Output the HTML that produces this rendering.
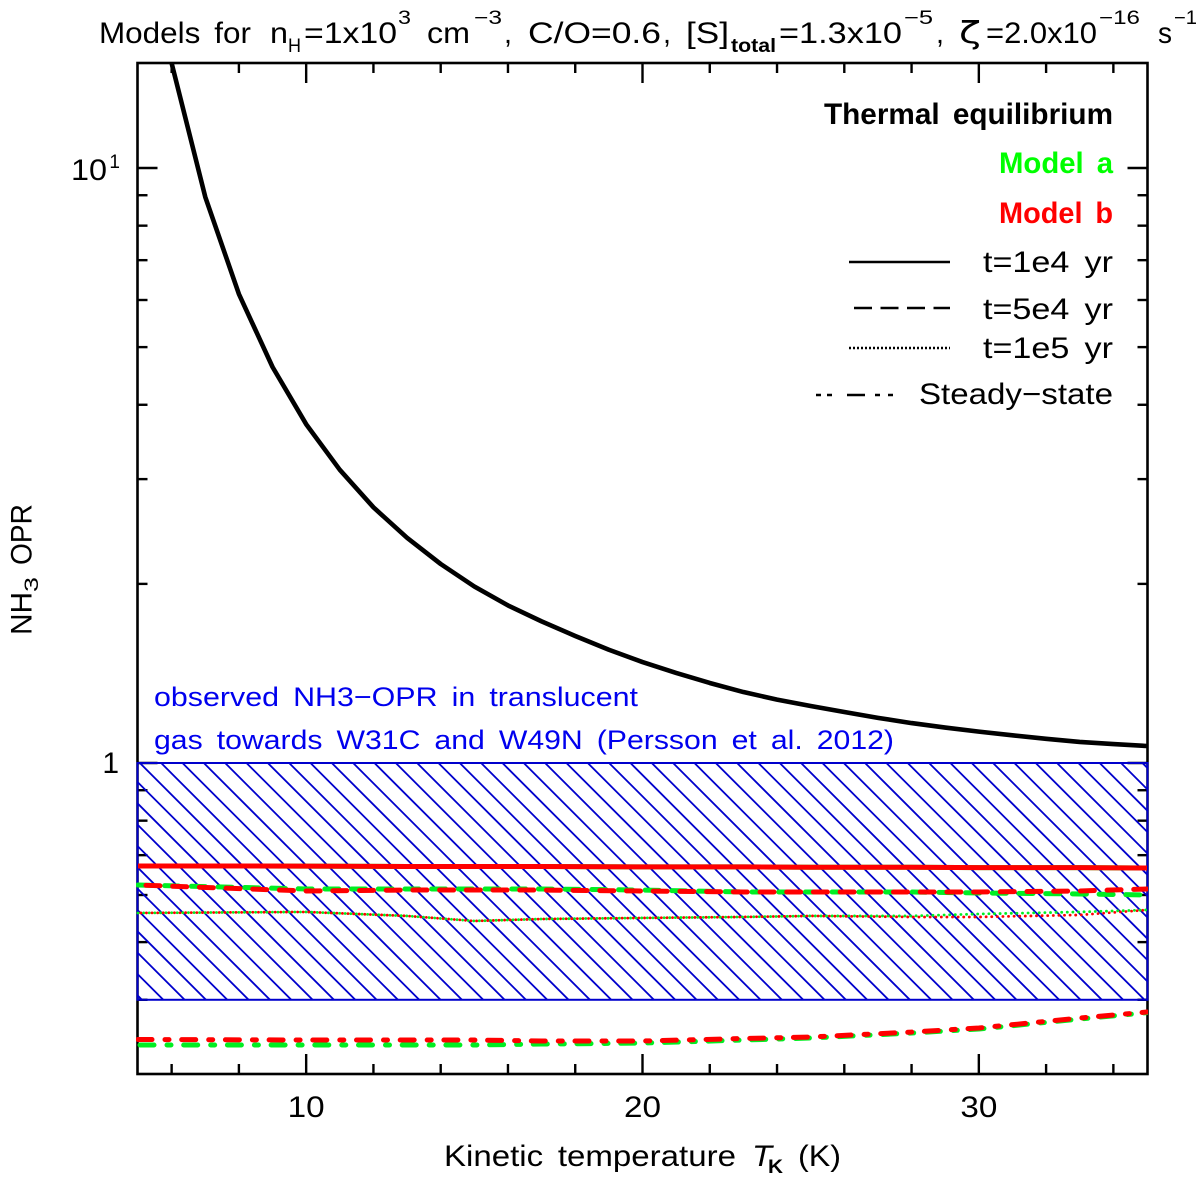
<!DOCTYPE html>
<html lang="en">
<head>
<meta charset="utf-8">
<title>NH3 OPR versus kinetic temperature</title>
<style>
html,body{margin:0;padding:0;background:#fff;width:1200px;height:1181px;overflow:hidden}
svg{display:block}
text{font-family:"Liberation Sans",sans-serif;font-size:30px;fill:#000;word-spacing:5px}
.sub{font-size:19px}
.blue{fill:#0000ee;font-size:27px}
.leg{font-size:30px}
.bold{font-weight:bold}
</style>
</head>
<body>
<svg id="chart" xmlns="http://www.w3.org/2000/svg" width="1200" height="1181" viewBox="0 0 1200 1181">
  <defs>
    <clipPath id="plot-clip"><rect x="136" y="63" width="1012" height="1011"></rect></clipPath>
    <clipPath id="hatch-clip"><rect x="137.5" y="763" width="1010" height="237"></rect></clipPath>
  </defs>

  <g>
    <text lengthAdjust="spacingAndGlyphs" x="99" y="43" textLength="152">Models for</text>
    <text lengthAdjust="spacingAndGlyphs" x="270" y="43" textLength="18">n</text>
    <text lengthAdjust="spacingAndGlyphs" class="sub" x="288" y="52" textLength="13">H</text>
    <text lengthAdjust="spacingAndGlyphs" x="304" y="43" textLength="93">=1x10</text>
    <text lengthAdjust="spacingAndGlyphs" class="sub" x="398" y="24" textLength="13">3</text>
    <text lengthAdjust="spacingAndGlyphs" x="427" y="43" textLength="43">cm</text>
    <text lengthAdjust="spacingAndGlyphs" class="sub" x="474" y="24" textLength="28">−3</text>
    <text lengthAdjust="spacingAndGlyphs" x="504" y="43" textLength="8">,</text>
    <text lengthAdjust="spacingAndGlyphs" x="528" y="43" textLength="133">C/O=0.6</text>
    <text lengthAdjust="spacingAndGlyphs" x="663" y="43" textLength="8">,</text>
    <text lengthAdjust="spacingAndGlyphs" x="686" y="43" textLength="43">[S]</text>
    <text lengthAdjust="spacingAndGlyphs" class="sub bold" x="731" y="52" textLength="45">total</text>
    <text lengthAdjust="spacingAndGlyphs" x="779" y="43" textLength="123">=1.3x10</text>
    <text lengthAdjust="spacingAndGlyphs" class="sub" x="904" y="24" textLength="29">−5</text>
    <text lengthAdjust="spacingAndGlyphs" x="936" y="43" textLength="8">,</text>
    <text lengthAdjust="spacingAndGlyphs" x="959" y="43" textLength="22" style="font-family:'DejaVu Sans',sans-serif">ζ</text>
    <text lengthAdjust="spacingAndGlyphs" x="986" y="43" textLength="111">=2.0x10</text>
    <text lengthAdjust="spacingAndGlyphs" class="sub" x="1099" y="24" textLength="41">−16</text>
    <text lengthAdjust="spacingAndGlyphs" x="1158" y="43" textLength="14">s</text>
    <text lengthAdjust="spacingAndGlyphs" class="sub" x="1174" y="24" textLength="23">−1</text>
  </g>

  <g id="ticks"></g>
  <rect x="137.5" y="63" width="1010" height="1011" fill="none" stroke="#000" stroke-width="2.6"></rect>
  <g id="band"></g>
  <g id="series" clip-path="url(#plot-clip)"></g>
  <g id="labels"></g>

  <g>
    <text lengthAdjust="spacingAndGlyphs" transform="translate(31.5,635) rotate(-90)" textLength="43">NH</text>
    <text lengthAdjust="spacingAndGlyphs" class="sub" transform="translate(38,592) rotate(-90)" textLength="15">3</text>
    <text lengthAdjust="spacingAndGlyphs" transform="translate(31.5,565) rotate(-90)" textLength="61">OPR</text>
  </g>

  <g>
    <text lengthAdjust="spacingAndGlyphs" x="444" y="1166" textLength="292">Kinetic temperature</text>
    <text lengthAdjust="spacingAndGlyphs" x="752" y="1166" font-style="italic" textLength="20">T</text>
    <text lengthAdjust="spacingAndGlyphs" class="sub bold" x="768" y="1173" textLength="15">K</text>
    <text lengthAdjust="spacingAndGlyphs" x="798" y="1166" textLength="43">(K)</text>
  </g>

  <g>
    <text lengthAdjust="spacingAndGlyphs" class="blue" x="154" y="706" textLength="484">observed NH3−OPR in translucent</text>
    <text lengthAdjust="spacingAndGlyphs" class="blue" x="154" y="749" textLength="740">gas towards W31C and W49N (Persson et al. 2012)</text>
  </g>

  <g>
    <text lengthAdjust="spacingAndGlyphs" class="leg bold" x="824" y="124" textLength="289">Thermal equilibrium</text>
    <text lengthAdjust="spacingAndGlyphs" class="leg bold" x="999" y="173" textLength="114" style="fill:#00ff00">Model a</text>
    <text lengthAdjust="spacingAndGlyphs" class="leg bold" x="999" y="223" textLength="114" style="fill:#ff0000">Model b</text>
    <line x1="849" y1="262" x2="950" y2="262" stroke="#000" stroke-width="2.6"></line>
    <text lengthAdjust="spacingAndGlyphs" class="leg" x="983" y="272" textLength="130">t=1e4 yr</text>
    <line x1="854" y1="308" x2="950" y2="308" stroke="#000" stroke-width="2.6" stroke-dasharray="18 8.5"></line>
    <text lengthAdjust="spacingAndGlyphs" class="leg" x="983" y="319" textLength="130">t=5e4 yr</text>
    <line x1="849" y1="348" x2="950" y2="348" stroke="#000" stroke-width="2.4" stroke-dasharray="2 2"></line>
    <text lengthAdjust="spacingAndGlyphs" class="leg" x="983" y="358" textLength="130">t=1e5 yr</text>
    <line x1="816" y1="395" x2="893" y2="395" stroke="#000" stroke-width="2.6" stroke-dasharray="5 6 5 15 18 10 5 8 5"></line>
    <text lengthAdjust="spacingAndGlyphs" class="leg" x="919" y="404" textLength="194">Steady−state</text>
  </g>
</svg>

<script>
const xMajorTicks = [10, 20, 30];
const xMinorTicks = [6, 8, 12, 14, 16, 18, 22, 24, 26, 28, 32, 34];
const yMajorTicks = [1, 10];
const yMinorTicks = [0.4, 0.5, 0.6, 0.7, 0.8, 0.9, 2, 3, 4, 5, 6, 7, 8, 9];
const xLabels = ["10", "20", "30"];

const thermalTemps = [5, 6, 7, 8, 9, 10, 11, 12, 13, 14, 15, 16, 17, 18, 19, 20, 21, 22, 23, 24, 25, 26, 27, 28, 29, 30, 31, 32, 33, 34, 35];
const thermalOpr = [32, 15.0, 8.94, 6.14, 4.63, 3.71, 3.11, 2.69, 2.39, 2.16, 1.98, 1.84, 1.73, 1.635, 1.55, 1.478, 1.417, 1.363, 1.316, 1.278, 1.247, 1.218, 1.191, 1.167, 1.147, 1.129, 1.113, 1.098, 1.085, 1.076, 1.068];

const modelTemps = [5, 10, 13, 15, 17, 20, 23, 25, 28, 30, 33, 35];
const t1e4ModelA = [0.6714, 0.671, 0.670, 0.670, 0.670, 0.669, 0.669, 0.668, 0.668, 0.667, 0.667, 0.666];
const t1e4ModelB = [0.6714, 0.671, 0.670, 0.670, 0.670, 0.669, 0.669, 0.668, 0.668, 0.667, 0.667, 0.666];
const t5e4ModelA = [0.6236, 0.6141, 0.6141, 0.6141, 0.6141, 0.6116, 0.607, 0.607, 0.607, 0.6047, 0.6024, 0.600];
const t5e4ModelB = [0.6236, 0.6094, 0.6116, 0.6116, 0.6116, 0.6094, 0.607, 0.607, 0.607, 0.607, 0.6094, 0.6141];
const t1e5ModelA = [0.5597, 0.5619, 0.5533, 0.5426, 0.5468, 0.549, 0.5511, 0.5533, 0.5533, 0.5575, 0.5619, 0.5662];
const t1e5ModelB = [0.5597, 0.5619, 0.5533, 0.5426, 0.5468, 0.549, 0.5511, 0.5533, 0.5511, 0.5511, 0.5554, 0.5662];
const steadyModelA = [0.3358, 0.3358, 0.3358, 0.3358, 0.3370, 0.3383, 0.3423, 0.3450, 0.3517, 0.3572, 0.3713, 0.3806];
const steadyModelB = [0.3430, 0.3423, 0.3423, 0.3423, 0.3410, 0.3410, 0.3443, 0.3463, 0.3530, 0.3586, 0.3727, 0.3815];

const bandTop = 1;
const bandBottom = 0.4;

const SVG_NS = "http://www.w3.org/2000/svg";
const xOf = function (t) { return 138 + (t - 5) * (1009 / 30); };
const yOf = function (v) { return 763 - Math.log10(v) * 595; };

function makeLine(parent, name, x1, y1, x2, y2, color, width) {
  const el = document.createElementNS(SVG_NS, "line");
  
  
  el.setAttribute("x1", x1);
  el.setAttribute("y1", y1);
  el.setAttribute("x2", x2);
  el.setAttribute("y2", y2);
  el.setAttribute("stroke", color);
  el.setAttribute("stroke-width", width);
  parent.appendChild(el);
  return el;
}

function makeSeries(parent, name, temps, values, color, width, dash, offset) {
  const el = document.createElementNS(SVG_NS, "polyline");
  
  
  const pts = temps.map(function (t, i) { return xOf(t).toFixed(2) + "," + yOf(values[i]).toFixed(2); });
  el.setAttribute("points", pts.join(" "));
  el.setAttribute("fill", "none");
  el.setAttribute("stroke", color);
  el.setAttribute("stroke-width", width);
  el.setAttribute("stroke-linejoin", "round");
  if (dash) {
    el.setAttribute("stroke-dasharray", dash);
    el.setAttribute("stroke-linecap", "round");
    el.setAttribute("stroke-dashoffset", offset || 0);
  }
  parent.appendChild(el);
  return el;
}

function makeText(parent, name, x, y, str, anchor, cls, len) {
  const el = document.createElementNS(SVG_NS, "text");
  
  
  el.setAttribute("x", x);
  el.setAttribute("y", y);
  el.setAttribute("text-anchor", anchor);
  if (cls) { el.setAttribute("class", cls); }
  if (len) {
    el.setAttribute("textLength", len);
    el.setAttribute("lengthAdjust", "spacingAndGlyphs");
  }
  el.textContent = str;
  parent.appendChild(el);
  return el;
}

const tickGroup = document.getElementById("ticks");
xMajorTicks.forEach(function (t) {
  makeLine(tickGroup, "x-major-tick-bottom", xOf(t), 1074, xOf(t), 1054, "#000", 2.4);
  makeLine(tickGroup, "x-major-tick-top", xOf(t), 63, xOf(t), 83, "#000", 2.4);
});
xMinorTicks.forEach(function (t) {
  makeLine(tickGroup, "x-minor-tick-bottom", xOf(t), 1074, xOf(t), 1064, "#000", 2.4);
  makeLine(tickGroup, "x-minor-tick-top", xOf(t), 63, xOf(t), 73, "#000", 2.4);
});
yMajorTicks.forEach(function (v) {
  makeLine(tickGroup, "y-major-tick-left", 137.5, yOf(v), 157.5, yOf(v), "#000", 2.4);
  makeLine(tickGroup, "y-major-tick-right", 1147.5, yOf(v), 1127.5, yOf(v), "#000", 2.4);
});
yMinorTicks.forEach(function (v) {
  makeLine(tickGroup, "y-minor-tick-left", 137.5, yOf(v), 147.5, yOf(v), "#000", 2.4);
  makeLine(tickGroup, "y-minor-tick-right", 1147.5, yOf(v), 1137.5, yOf(v), "#000", 2.4);
});

const bandGroup = document.getElementById("band");
const hatchGroup = document.createElementNS(SVG_NS, "g");


hatchGroup.setAttribute("clip-path", "url(#hatch-clip)");
bandGroup.appendChild(hatchGroup);
const bandY1 = yOf(bandTop);
const bandY2 = yOf(bandBottom);
const hatchStep = 21.33;
for (let c = 163.3 - bandY2 - 60 * hatchStep; c < 1148 - bandY1; c += hatchStep) {
  makeLine(hatchGroup, "band-hatch-line", c + bandY1, bandY1, c + bandY2, bandY2, "#0000cc", 1.8);
}
const bandRect = document.createElementNS(SVG_NS, "rect");


bandRect.setAttribute("x", 137.5);
bandRect.setAttribute("y", bandY1);
bandRect.setAttribute("width", 1010);
bandRect.setAttribute("height", bandY2 - bandY1);
bandRect.setAttribute("fill", "none");
bandRect.setAttribute("stroke", "#0000cc");
bandRect.setAttribute("stroke-width", 2);
bandGroup.appendChild(bandRect);

const seriesGroup = document.getElementById("series");
makeSeries(seriesGroup, "thermal-equilibrium-curve", thermalTemps, thermalOpr, "#000", 4.6);
makeSeries(seriesGroup, "model-a-t1e4", modelTemps, t1e4ModelA, "#00ff00", 5);
makeSeries(seriesGroup, "model-b-t1e4", modelTemps, t1e4ModelB, "#ff0000", 5);
makeSeries(seriesGroup, "model-a-t5e4", modelTemps, t5e4ModelA, "#00ee22", 5, "14 12.7", 0);
makeSeries(seriesGroup, "model-b-t5e4", modelTemps, t5e4ModelB, "#ff0000", 5, "14 12.7", 18.7);
makeSeries(seriesGroup, "model-a-t1e5", modelTemps, t1e5ModelA, "#00ee22", 2.8, "0.1 5.5", 0);
makeSeries(seriesGroup, "model-b-t1e5", modelTemps, t1e5ModelB, "#ff0000", 2.8, "0.1 5.5", 2.8);
makeSeries(seriesGroup, "model-a-steady-state", modelTemps, steadyModelA, "#00ee22", 5, "14 13 4 12.7", -2);
makeSeries(seriesGroup, "model-b-steady-state", modelTemps, steadyModelB, "#ff0000", 5, "14 13 4 12.7", 0);

const labelGroup = document.getElementById("labels");
xMajorTicks.forEach(function (t, i) {
  makeText(labelGroup, "x-tick-label", xOf(t), 1117, xLabels[i], "middle", null, 37);
});
makeText(labelGroup, "y-tick-label-1", 119, 773, "1", "end");
makeText(labelGroup, "y-tick-label-10", 71, 180, "10", "start", null, 36);
makeText(labelGroup, "y-tick-label-10-exponent", 120, 168, "1", "end", "sub");
</script>
</body>
</html>
